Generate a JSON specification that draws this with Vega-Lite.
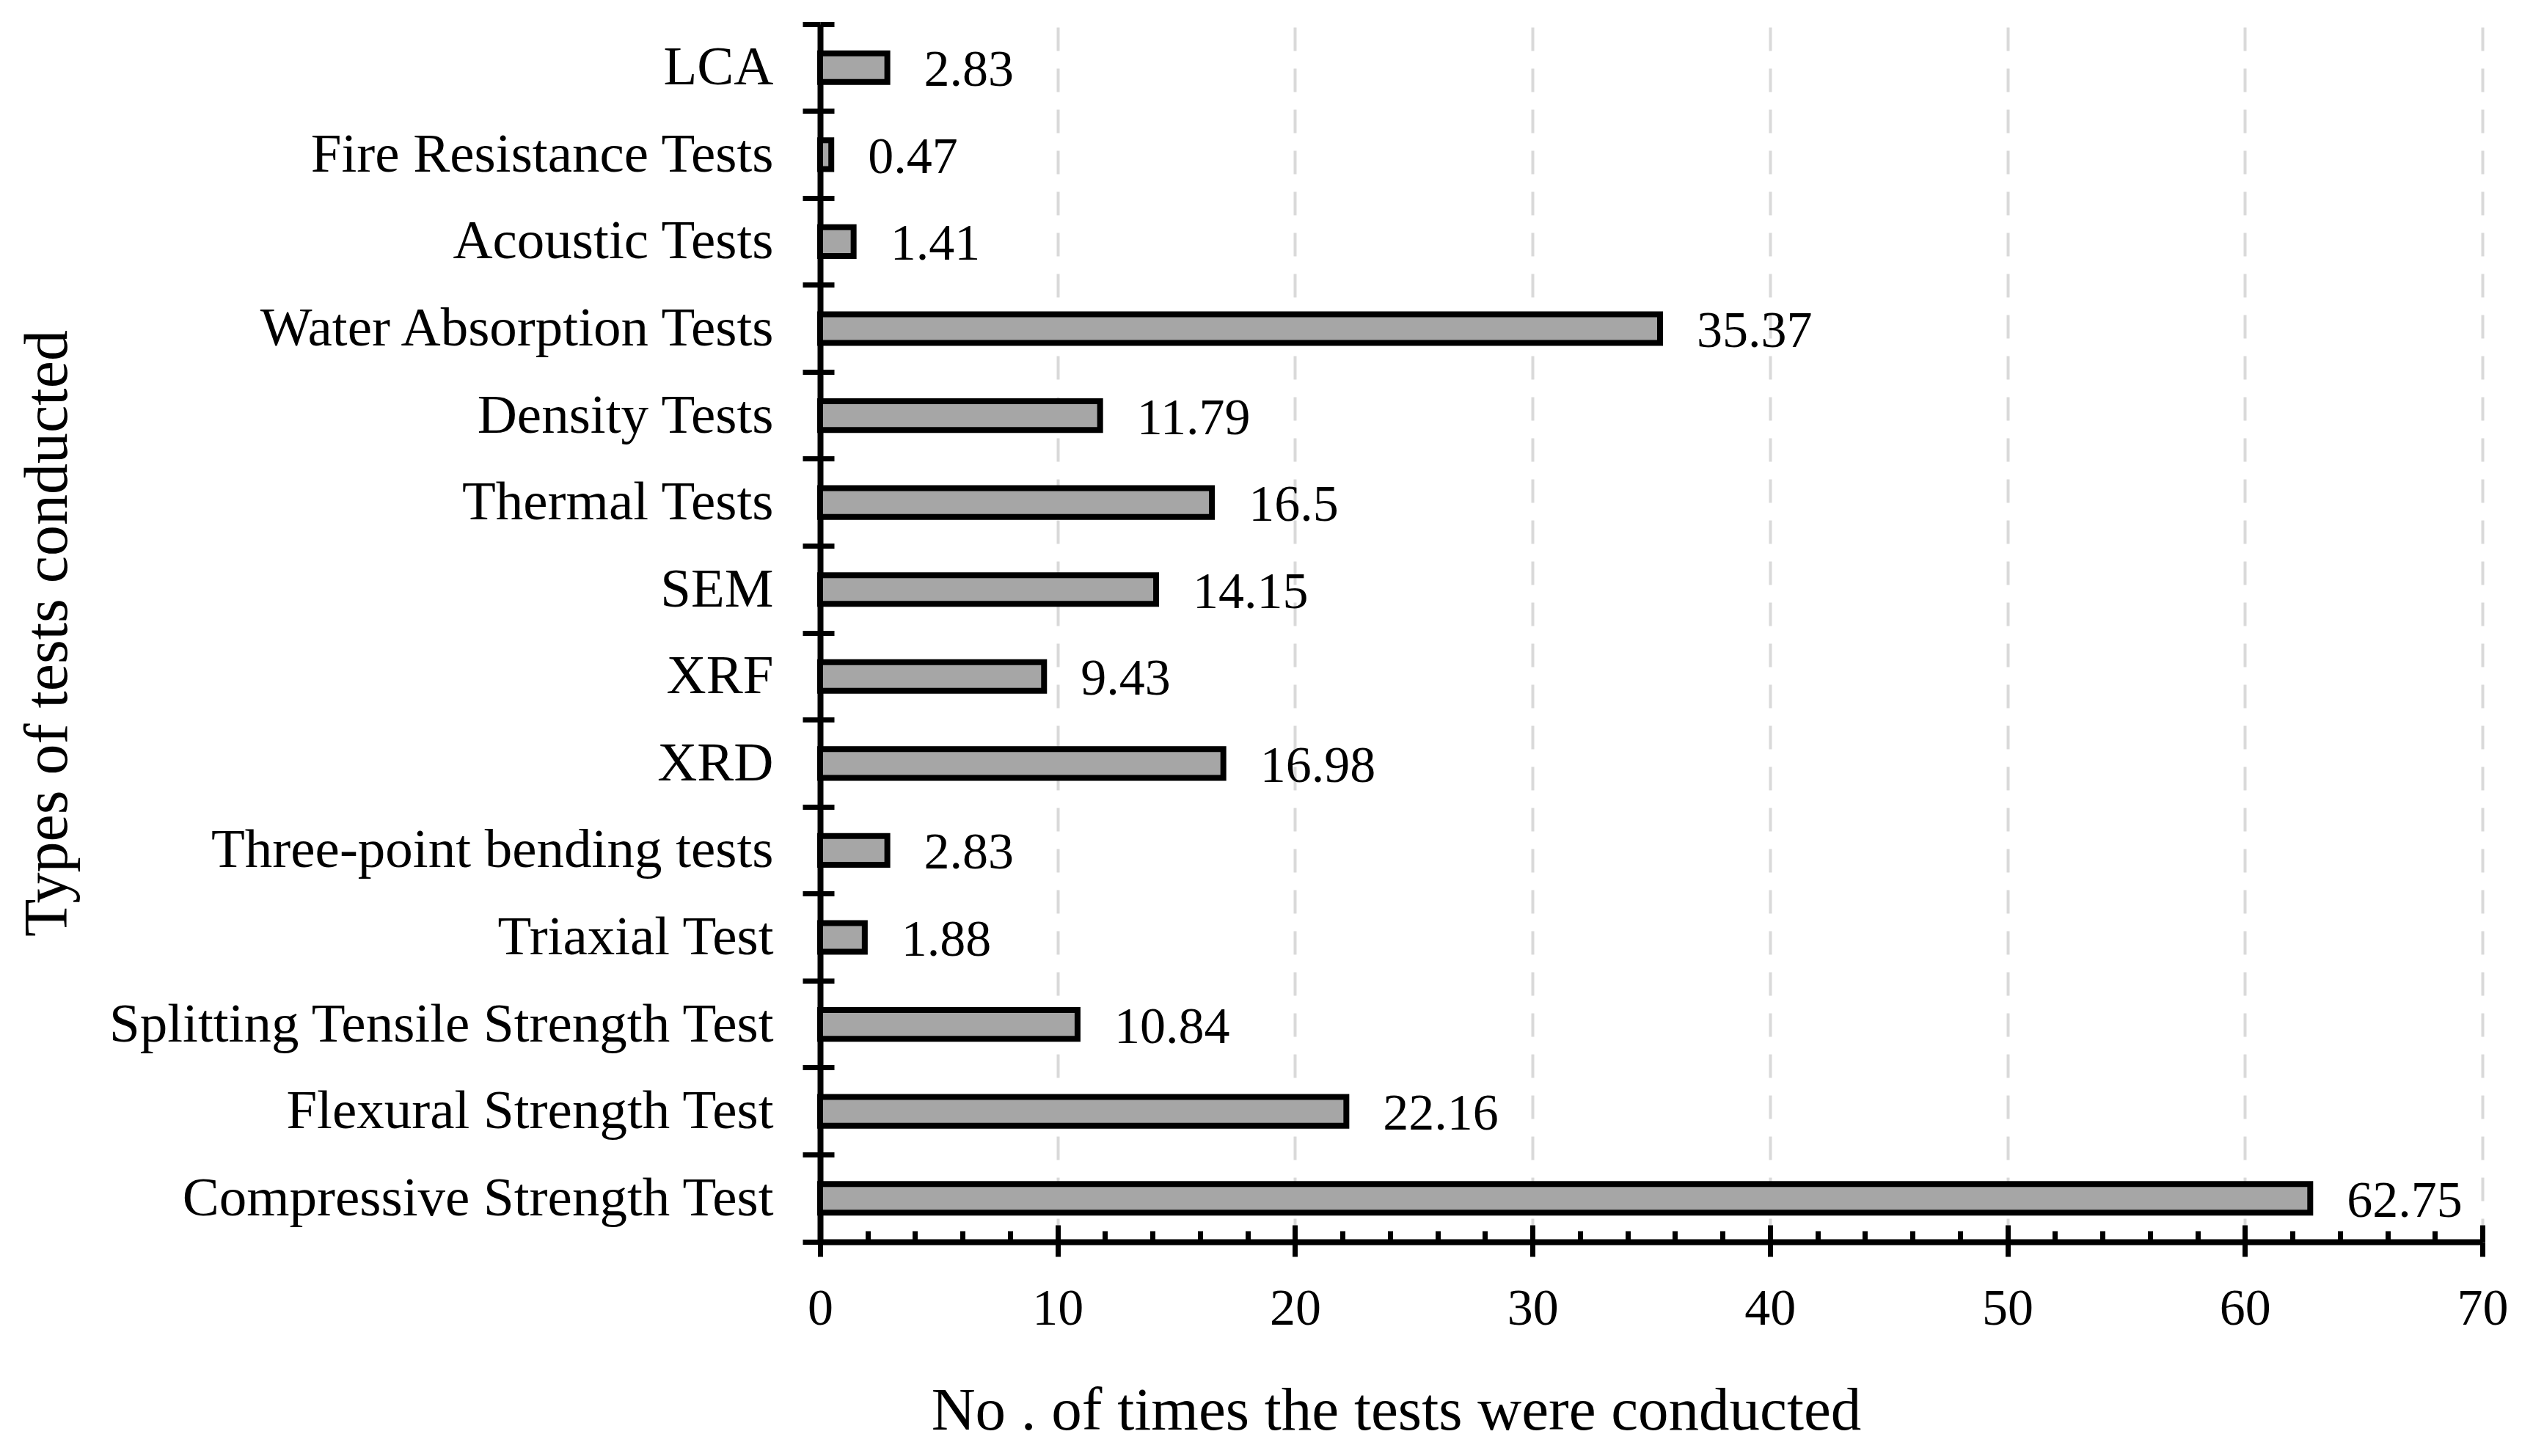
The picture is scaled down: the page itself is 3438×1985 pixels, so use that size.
{
  "$schema": "https://vega.github.io/schema/vega-lite/v6.json",
  "autosize": "none",
  "width": 2266,
  "height": 1660,
  "padding": {"left": 1118, "top": 33, "right": 54, "bottom": 292},
  "background": "white",
  "data": {
    "values": [
      {"test": "LCA", "count": 2.83},
      {"test": "Fire Resistance Tests", "count": 0.47},
      {"test": "Acoustic Tests", "count": 1.41},
      {"test": "Water Absorption Tests", "count": 35.37},
      {"test": "Density Tests", "count": 11.79},
      {"test": "Thermal Tests", "count": 16.5},
      {"test": "SEM", "count": 14.15},
      {"test": "XRF", "count": 9.43},
      {"test": "XRD", "count": 16.98},
      {"test": "Three-point bending tests", "count": 2.83},
      {"test": "Triaxial Test", "count": 1.88},
      {"test": "Splitting Tensile Strength Test", "count": 10.84},
      {"test": "Flexural Strength Test", "count": 22.16},
      {"test": "Compressive Strength Test", "count": 62.75}
    ]
  },
  "config": {
    "view": {"stroke": null},
    "font": "Liberation Serif"
  },
  "resolve": {"axis": {"x": "independent", "y": "independent"}},
  "layer": [
    {
      "mark": {
        "type": "bar",
        "fill": "#a6a6a6",
        "stroke": "black",
        "strokeWidth": 8,
        "height": {"band": 0.33}
      },
      "encoding": {
        "y": {
          "field": "test",
          "type": "nominal",
          "sort": null,
          "scale": {"paddingInner": 0, "paddingOuter": 0},
          "axis": {
            "orient": "left",
            "title": "Types of tests conducted",
            "titleFont": "Liberation Serif",
            "titleFontSize": 84,
            "titleFontWeight": "normal",
            "titleColor": "black",
            "titleX": -1028,
            "titleY": 830,
            "titleAngle": -90,
            "titleAlign": "center",
            "titleBaseline": "alphabetic",
            "labelFont": "Liberation Serif",
            "labelFontSize": 75,
            "labelColor": "black",
            "labelPadding": 40,
            "labelLimit": 2000,
            "bandPosition": 1,
            "tickExtra": true,
            "tickSize": 24,
            "tickWidth": 7,
            "tickColor": "black",
            "domainColor": "black",
            "domainWidth": 8,
            "grid": false
          }
        },
        "x": {
          "field": "count",
          "type": "quantitative",
          "scale": {"domain": [0, 70], "nice": false},
          "axis": {
            "orient": "bottom",
            "title": "No . of times the tests were conducted",
            "titleFont": "Liberation Serif",
            "titleFontSize": 83,
            "titleFontWeight": "normal",
            "titleColor": "black",
            "titleX": 785,
            "titleY": 255,
            "titleAlign": "center",
            "titleBaseline": "alphabetic",
            "values": [0, 10, 20, 30, 40, 50, 60, 70],
            "labelFont": "Liberation Serif",
            "labelFontSize": 70,
            "labelColor": "black",
            "labelBaseline": "top",
            "labelPadding": 37,
            "labelFlush": false,
            "labelOverlap": false,
            "tickSize": 20,
            "tickWidth": 7,
            "tickColor": "black",
            "domainColor": "black",
            "domainWidth": 8,
            "grid": true,
            "gridColor": "#d9d9d9",
            "gridWidth": 4,
            "gridDash": [32, 24]
          }
        }
      }
    },
    {
      "mark": {
        "type": "text",
        "align": "left",
        "baseline": "middle",
        "dx": 50,
        "dy": 4,
        "font": "Liberation Serif",
        "fontSize": 70,
        "color": "black"
      },
      "encoding": {
        "y": {
          "field": "test",
          "type": "nominal",
          "sort": null,
          "axis": {
            "orient": "left",
            "title": null,
            "labels": false,
            "domain": false,
            "grid": false,
            "bandPosition": 1,
            "tickExtra": true,
            "tickSize": -19,
            "tickWidth": 7,
            "tickColor": "black",
            "zindex": 1
          }
        },
        "x": {
          "field": "count",
          "type": "quantitative",
          "axis": {
            "orient": "bottom",
            "title": null,
            "labels": false,
            "domain": false,
            "grid": false,
            "values": [0, 2, 4, 6, 8, 10, 12, 14, 16, 18, 20, 22, 24, 26, 28, 30, 32, 34, 36, 38, 40, 42, 44, 46, 48, 50, 52, 54, 56, 58, 60, 62, 64, 66, 68, 70],
            "tickSize": {"condition": {"test": "datum.value % 10 === 0", "value": -23}, "value": -15},
            "tickWidth": 7,
            "tickColor": "black",
            "zindex": 1
          }
        },
        "text": {"field": "count", "type": "quantitative"}
      }
    }
  ]
}
